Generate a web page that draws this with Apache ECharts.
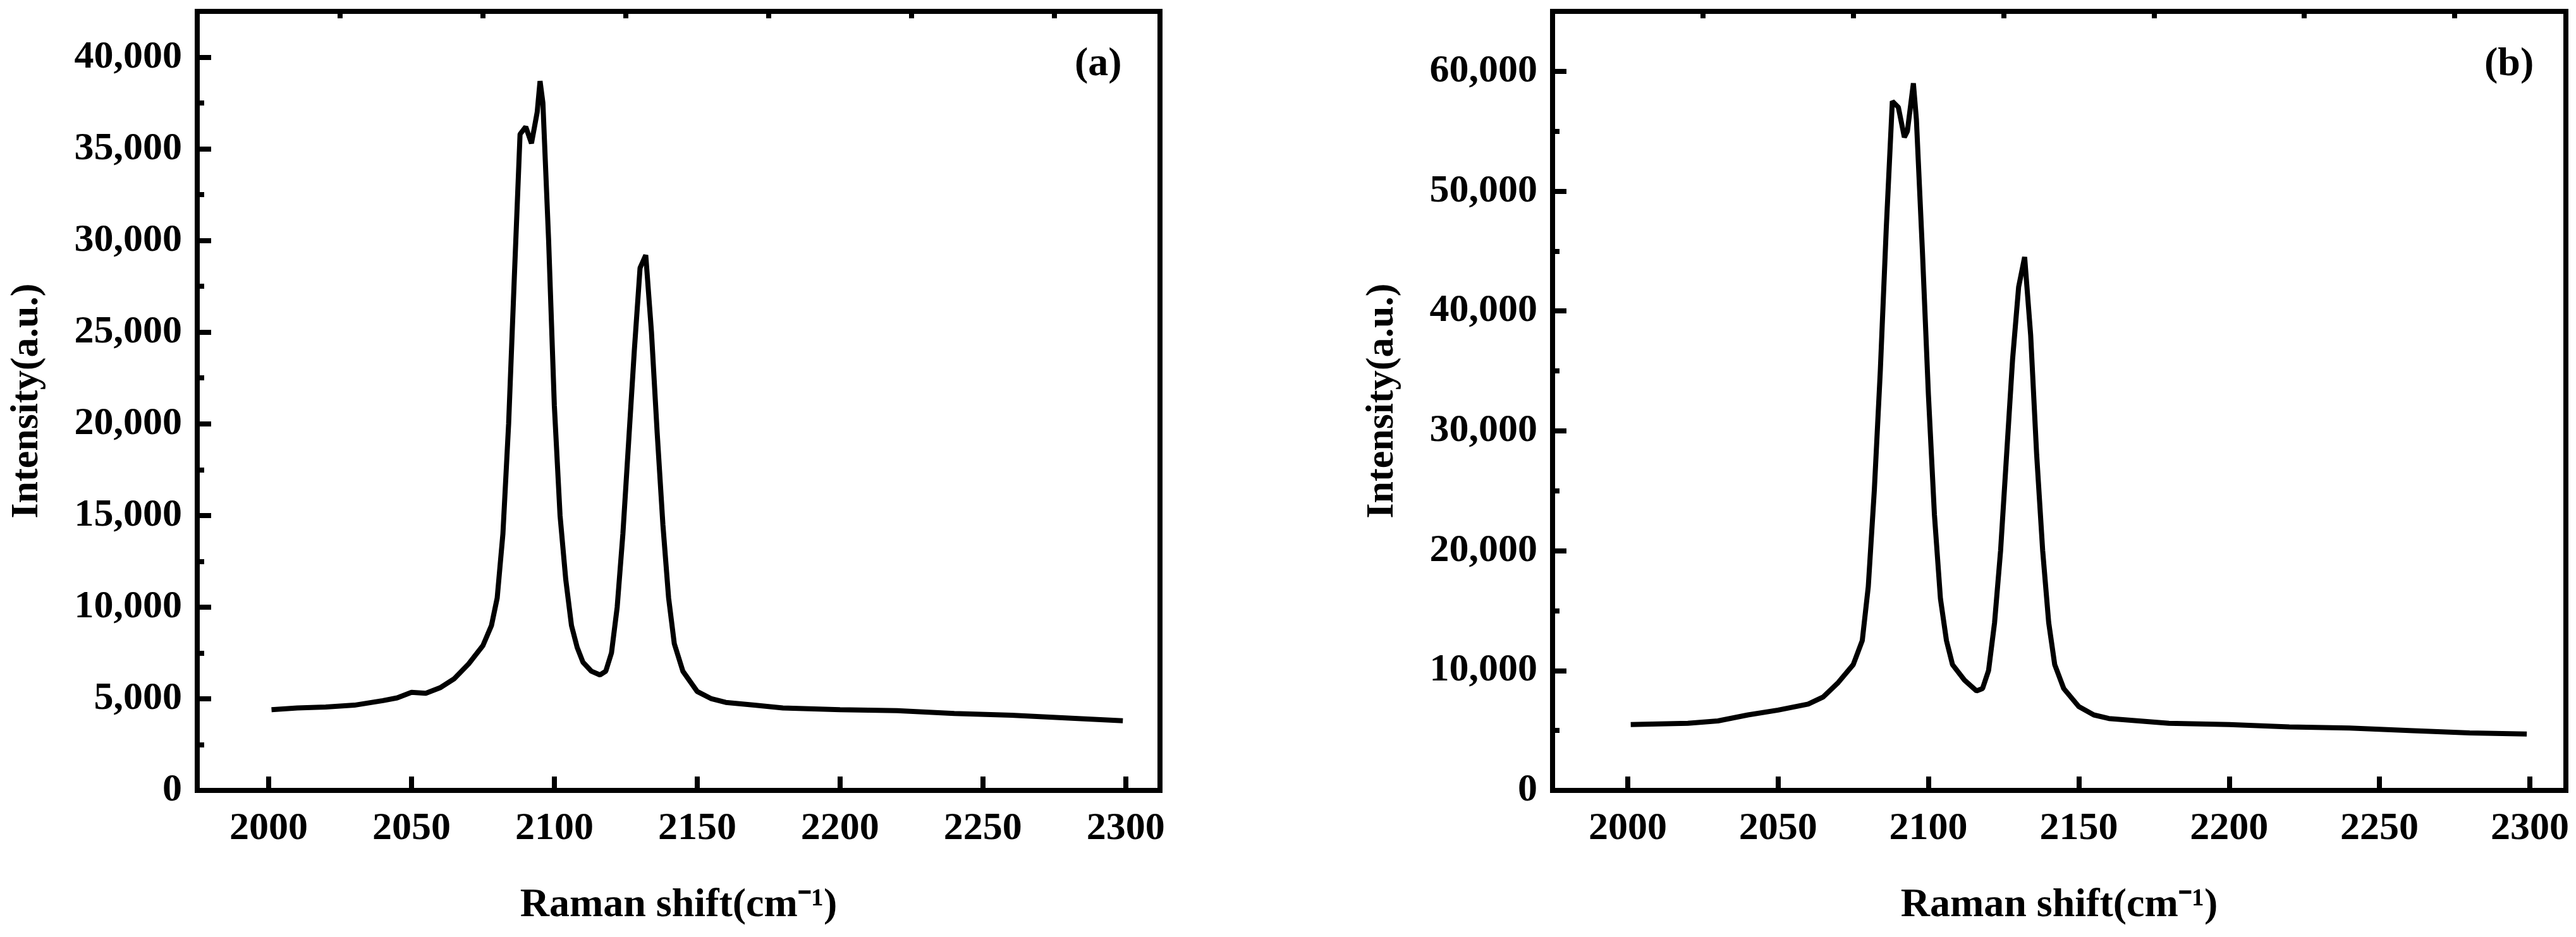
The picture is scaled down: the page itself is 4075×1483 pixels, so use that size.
<!DOCTYPE html>
<html><head><meta charset="utf-8">
<script src="https://cdn.jsdelivr.net/npm/echarts@6/dist/echarts.min.js"></script>
<style>html,body{margin:0;background:#fff}#main{width:4075px;height:1483px}</style>
</head><body><div id="main"></div>
<script>
// (a) spectrum
var xA = [2001,2010,2020,2030,2040,2045,2050,2055,2060,2065,2070,2075,2078,2080,2082,2084,2086,2088,2090,2092,2094,2095,2096,2098,2100,2102,2104,2106,2108,2110,2113,2116,2118,2120,2122,2124,2126,2128,2130,2132,2134,2136,2138,2140,2142,2145,2150,2155,2160,2170,2180,2200,2220,2240,2260,2280,2299];
var yA = [4400,4500,4550,4650,4900,5050,5350,5300,5600,6100,6900,7900,9000,10500,14000,20000,28000,35800,36200,35300,37000,38700,37500,30000,21000,15000,11500,9000,7800,7000,6500,6300,6500,7500,10000,14000,19000,24000,28500,29200,25000,19500,14500,10500,8000,6500,5400,5000,4800,4650,4500,4400,4350,4200,4100,3950,3800];
// (b) spectrum
var xB = [2001,2020,2030,2040,2050,2060,2065,2070,2075,2078,2080,2082,2084,2086,2088,2090,2092,2093,2095,2096,2098,2100,2102,2104,2106,2108,2112,2116,2118,2120,2122,2124,2126,2128,2130,2132,2134,2136,2138,2140,2142,2145,2150,2155,2160,2170,2180,2200,2220,2240,2260,2280,2299];
var yB = [5500,5600,5800,6300,6700,7200,7800,9000,10500,12500,17000,25000,35000,47000,57500,57000,54500,55000,59000,56000,45000,33000,23000,16000,12500,10500,9200,8300,8500,10000,14000,20000,28000,36000,42000,44500,38000,28000,20000,14000,10500,8500,7000,6300,6000,5800,5600,5500,5300,5200,5000,4800,4700];
var xMajor = [2000,2050,2100,2150,2200,2250,2300];
var xMinor = [2025,2075,2125,2175,2225,2275];

var font = 'Liberation Serif';
var myChart = echarts.init(document.getElementById('main'));
function pairs(x, y){ var d=[]; for(var i=0;i<x.length;i++) d.push([x[i],y[i]]); return d; }
function xAxes(gi){
    var base = {gridIndex:gi, type:'value', min:1975, max:2312, splitLine:{show:false}, z:10};
    return [
        Object.assign({}, base, {
            axisLine:{lineStyle:{color:'#000',width:8}},
            axisTick:{show:true, inside:true, length:22, customValues:xMajor, lineStyle:{width:8,color:'#000'}},
            axisLabel:{customValues:xMajor, color:'#000', fontFamily:font, fontWeight:'bold', fontSize:62, margin:30,
                formatter:function(v){return String(v);}},
            name:'Raman shift(cm\u207B\u00B9)', nameLocation:'middle', nameGap:150,
            nameTextStyle:{color:'#000', fontFamily:font, fontWeight:'bold', fontSize:64}
        }),
        Object.assign({}, base, {
            axisLine:{show:false},
            axisTick:{show:true, inside:true, length:11, customValues:xMinor, lineStyle:{width:8,color:'#000'}},
            axisLabel:{show:false}
        })
    ];
}
function yAxis(gi, max, interval){
    return {gridIndex:gi, type:'value', min:0, max:max, interval:interval, splitLine:{show:false}, z:10,
        axisLine:{show:true, lineStyle:{color:'#000',width:8}},
        axisTick:{show:true, inside:true, length:22, lineStyle:{width:8,color:'#000'}},
        minorTick:{show:true, splitNumber:2, length:11, lineStyle:{width:8,color:'#000'}},
        axisLabel:{color:'#000', fontFamily:font, fontWeight:'bold', fontSize:62, margin:24,
            showMaxLabel:false, formatter:function(v){return v.toLocaleString('en-US');}},
        name:'Intensity(a.u.)', nameLocation:'middle', nameGap:238,
        nameTextStyle:{color:'#000', fontFamily:font, fontWeight:'bold', fontSize:62}
    };
}
var option = {
    backgroundColor:'#fff',
    animation:false,
    grid:[
        {left:312, right:2240, top:18, bottom:232, show:true, borderColor:'#000', borderWidth:8, outerBoundsMode:'none'},
        {left:2456, right:16, top:18, bottom:232, show:true, borderColor:'#000', borderWidth:8, outerBoundsMode:'none'}
    ],
    xAxis: xAxes(0).concat(xAxes(1)),
    yAxis: [yAxis(0, 42500, 5000), yAxis(1, 65000, 10000)],
    graphic:[
        {type:'text', left:1700, top:70, style:{text:'(a)', fill:'#000', font:'bold 64px "Liberation Serif"'}},
        {type:'text', left:3930, top:70, style:{text:'(b)', fill:'#000', font:'bold 64px "Liberation Serif"'}}
    ],
    series:[
        {type:'line', xAxisIndex:0, yAxisIndex:0, data:pairs(xA,yA), showSymbol:false, lineStyle:{color:'#000',width:8}},
        {type:'line', xAxisIndex:2, yAxisIndex:1, data:pairs(xB,yB), showSymbol:false, lineStyle:{color:'#000',width:8}}
    ]
};
myChart.setOption(option);
</script></body></html>
